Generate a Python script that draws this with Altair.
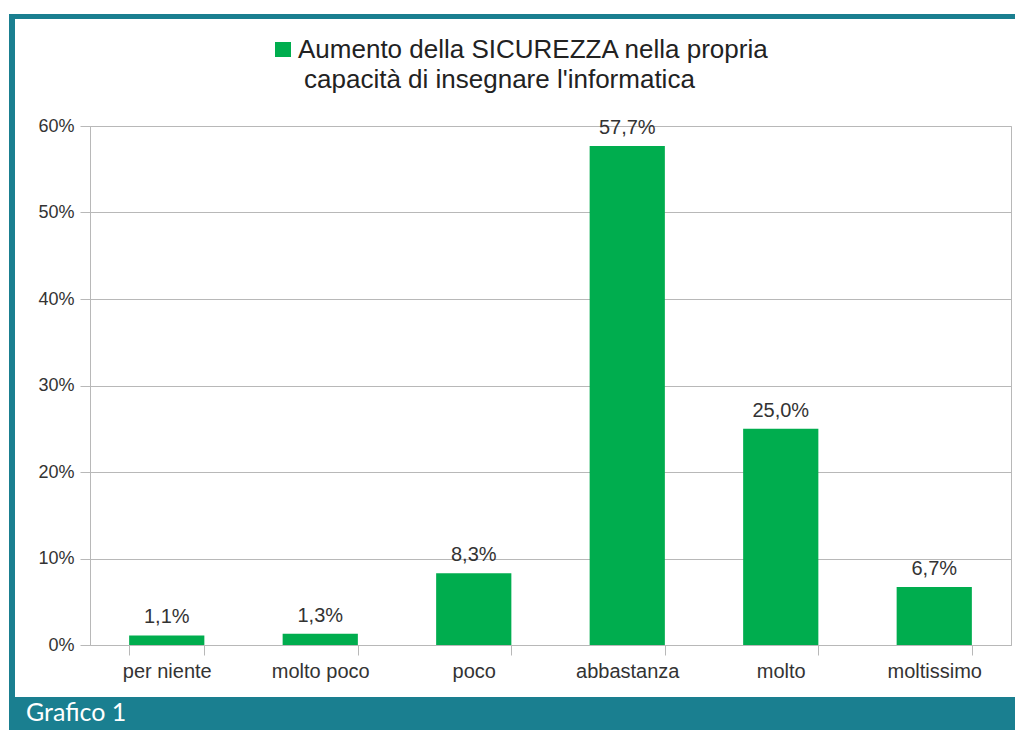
import altair as alt
import pandas as pd

categories = ["per niente", "molto poco", "poco", "abbastanza", "molto", "moltissimo"]
values = [1.1, 1.3, 8.3, 57.7, 25.0, 6.7]
y_ticks = [0, 10, 20, 30, 40, 50, 60]
legend_lines = ["Aumento della SICUREZZA nella propria", "capacità di insegnare l'informatica"]
caption = "Grafico 1"

GREEN = "#00ad4e"
TEAL = "#1a7f90"
GRID = "#b8b8b8"
FONT = "Liberation Sans"

df = pd.DataFrame({"categoria": categories, "valore": values})
one = alt.Data(values=[{"k": 1}])

x_enc = alt.X(
    "categoria:N",
    sort=categories,
    scale=alt.Scale(paddingInner=0.51, paddingOuter=0.255),
    axis=alt.Axis(
        title=None, labelAngle=0, tickBand="extent", tickSize=10,
        tickColor=GRID, domainColor=GRID, labelFontSize=20, labelColor="#333333",
        labelFont=FONT, labelPadding=6, grid=False,
    ),
)
y_enc = alt.Y(
    "valore:Q",
    scale=alt.Scale(domain=[0, 60], nice=False),
    axis=alt.Axis(
        title=None, values=y_ticks, labelExpr="datum.value + '%'", tickSize=10,
        tickColor=GRID, domainColor=GRID, gridColor=GRID, grid=True,
        labelFontSize=18, labelColor="#333333", labelFont=FONT, labelPadding=6,
    ),
)

bars = alt.Chart(df).mark_bar(color=GREEN).encode(x=x_enc, y=y_enc)

labels = (
    alt.Chart(df)
    .transform_calculate(lbl="replace(format(datum.valore, '.1f'), '.', ',') + '%'")
    .mark_text(baseline="alphabetic", dy=-12, fontSize=20, font=FONT, color="#333333")
    .encode(x=alt.X("categoria:N", sort=categories), y="valore:Q", text="lbl:N")
)

def rect(x0, x1, y0, y1, color):
    return alt.Chart(one).mark_rect(color=color).encode(
        x=alt.value(x0), x2=alt.value(x1), y=alt.value(y0), y2=alt.value(y1)
    )

frame_left = rect(-81, -75, -112, 571, TEAL)
frame_top = rect(-81, 940, -112, -107, TEAL)
frame_bottom = rect(-81, 940, 571, 610, TEAL)
legend_square = rect(185, 201, -84, -69, GREEN)

legend_text1 = alt.Chart(one).mark_text(
    align="left", baseline="alphabetic", fontSize=26, font=FONT, color="#222222"
).encode(x=alt.value(208), y=alt.value(-68), text=alt.value(legend_lines[0]))
legend_text2 = alt.Chart(one).mark_text(
    align="left", baseline="alphabetic", fontSize=26, font=FONT, color="#222222"
).encode(x=alt.value(214), y=alt.value(-38), text=alt.value(legend_lines[1]))

caption_text = alt.Chart(one).mark_text(
    align="left", baseline="middle", fontSize=25, font="Lato", color="white"
).encode(x=alt.value(-64), y=alt.value(587), text=alt.value(caption))

chart = (
    alt.layer(
        bars, labels, frame_left, frame_top, frame_bottom,
        legend_square, legend_text1, legend_text2, caption_text,
    )
    .properties(
        width=921, height=519,
        padding={"left": 82, "top": 118, "right": 4, "bottom": 85},
        autosize=alt.AutoSizeParams(type="none"),
        background="white",
    )
    .configure_view(stroke=GRID)
)

chart.save("out.html", embed_options={"renderer": "svg", "actions": False})
